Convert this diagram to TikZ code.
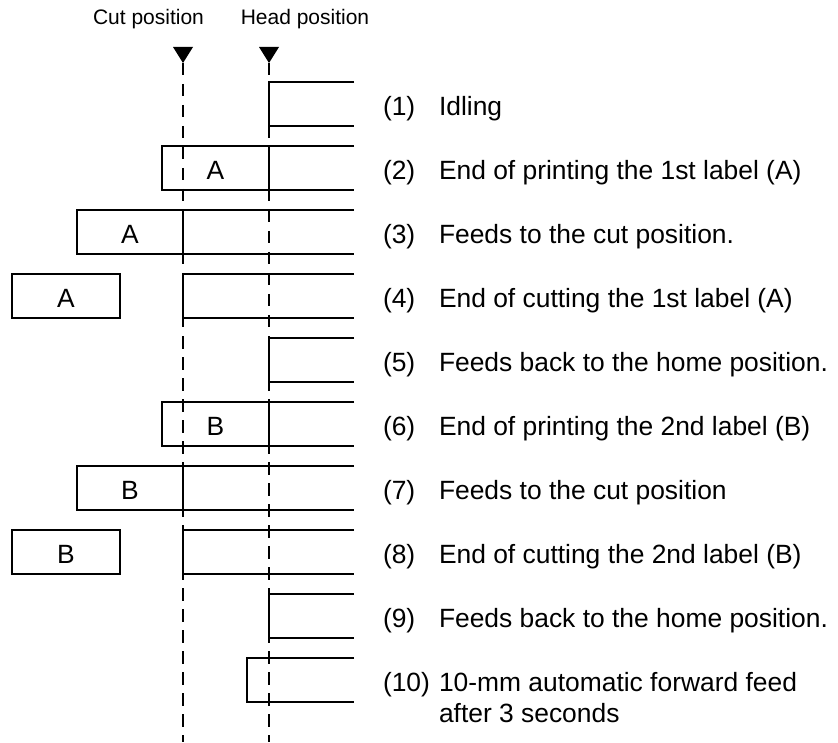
\documentclass[tikz,border=0pt]{standalone}
\usepackage{fontspec}
\setmainfont{Liberation Sans}

\begin{document}
\begin{tikzpicture}[x=0.5pt, y=-0.5pt, line width=1pt,
  desc/.style={anchor=base west, inner sep=0pt, font=\fontsize{13.2}{15.8}\selectfont},
  boxlab/.style={anchor=base, inner sep=0pt, font=\fontsize{13.2}{15.8}\selectfont},
  marker/.style={anchor=base, inner sep=0pt, font=\fontsize{10.5}{12.6}\selectfont},
  guide/.style={dash pattern=on 6.25pt off 4.25pt, line width=1.25pt}]
  \useasboundingbox (0,0) rectangle (838,742);
  % position markers
  \node[marker] (cutlab)  at (148.5,25) {Cut position};
  \node[marker] (headlab) at (305,25)   {Head position};
  \coordinate (cut)  at (183,63);
  \coordinate (head) at (269,63);
  \fill (cut)  -- ++(-10,-16) -- ++(20,0) -- cycle;
  \fill (head) -- ++(-10,-16) -- ++(20,0) -- cycle;
  % tape in each step
  \foreach \k/\x in {1/269, 2/162, 3/77, 4/183, 5/269, 6/162, 7/77, 8/183, 9/269, 10/247}
    \draw (354,{82+64*(\k-1)}) -- (\x,{82+64*(\k-1)}) -- (\x,{126+64*(\k-1)}) -- (354,{126+64*(\k-1)});
  \foreach \k/\x in {2/269, 3/183, 6/269, 7/183}
    \draw (\x,{82+64*(\k-1)}) -- ++(0,44);
  \foreach \k in {4, 8}
    \draw (12,{82+64*(\k-1)}) rectangle ++(108,44);
  \foreach \k/\x/\l in {2/215.5/A, 3/130/A, 4/66/A, 6/215.5/B, 7/130/B, 8/66/B}
    \node[boxlab] (lab\k) at (\x,{115.5+64*(\k-1)}) {\l};
  % guide lines
  \draw[guide] (cut)  -- (183,742);
  \draw[guide] (head) -- (269,742);
  % step texts
  \foreach \k/\txt in {1/Idling, 2/End of printing the 1st label (A), 3/Feeds to the cut position.,
      4/End of cutting the 1st label (A), 5/Feeds back to the home position.,
      6/End of printing the 2nd label (B), 7/Feeds to the cut position,
      8/End of cutting the 2nd label (B), 9/Feeds back to the home position.,
      10/10-mm automatic forward feed}
    { \node[desc] (num\k) at (382,{115.5+64*(\k-1)}) {(\k)};
      \node[desc] (desc\k) at (438,{115.5+64*(\k-1)}) {\txt}; }
  \node[desc] (desc10b) at (438,722) {after 3 seconds};
\end{tikzpicture}
\end{document}
